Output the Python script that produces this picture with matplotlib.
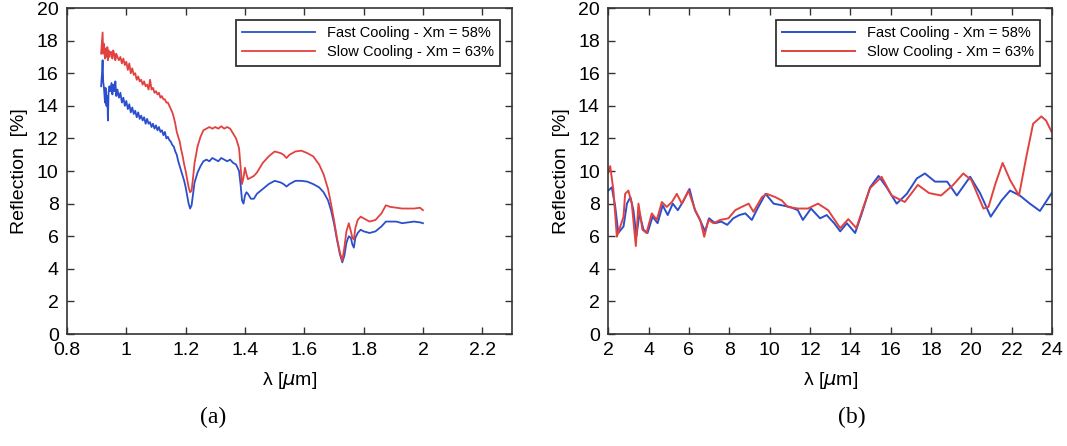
import matplotlib.pyplot as plt
import numpy as np

plt.rcParams['font.family'] = ['Liberation Sans', 'DejaVu Sans']

# panel (a): near infrared
xa = [0.915, 0.918, 0.920, 0.922, 0.925, 0.928, 0.930, 0.933, 0.936, 0.938, 0.940, 0.943, 0.946,
      0.950, 0.953, 0.956, 0.960, 0.963, 0.966, 0.970, 0.975, 0.980, 0.985, 0.990, 0.995, 1.000,
      1.005, 1.010, 1.015, 1.020, 1.025, 1.030, 1.035, 1.040, 1.045, 1.050, 1.055, 1.060, 1.065,
      1.070, 1.075, 1.080, 1.085, 1.090, 1.095, 1.100, 1.105, 1.110, 1.115, 1.120, 1.125, 1.130,
      1.135, 1.140, 1.145, 1.150, 1.155, 1.160, 1.165, 1.170, 1.175, 1.180, 1.185, 1.190, 1.195,
      1.200, 1.205, 1.210, 1.215, 1.220, 1.225, 1.230, 1.240, 1.250, 1.260, 1.270, 1.280, 1.290,
      1.300, 1.310, 1.320, 1.330, 1.340, 1.350, 1.360, 1.370, 1.380, 1.385, 1.390, 1.395, 1.400,
      1.405, 1.410, 1.420, 1.430, 1.440, 1.460, 1.480, 1.500, 1.520, 1.530, 1.540, 1.550, 1.570,
      1.590, 1.610, 1.630, 1.650, 1.665, 1.680, 1.690, 1.700, 1.710, 1.720, 1.728, 1.735, 1.742,
      1.750, 1.757, 1.762, 1.767, 1.772, 1.780, 1.790, 1.800, 1.820, 1.840, 1.860, 1.875, 1.890,
      1.910, 1.930, 1.950, 1.970, 1.990, 2.000]
fast_a = [15.2, 16.0, 16.8, 15.5, 15.0, 14.2, 15.1, 14.0, 14.6, 13.1, 14.8, 15.2, 14.9,
          15.4, 14.7, 15.3, 14.9, 15.5, 14.6, 15.0, 14.5, 14.8, 14.2, 14.5, 14.0, 14.3,
          13.8, 14.1, 13.6, 13.9, 13.5, 13.7, 13.3, 13.6, 13.2, 13.4, 13.1, 13.3, 12.9,
          13.2, 12.9, 13.0, 12.7, 12.9, 12.6, 12.8, 12.5, 12.7, 12.4, 12.5, 12.2, 12.4,
          12.0, 12.1, 11.9, 11.8, 11.6, 11.5, 11.2, 11.0, 10.6, 10.3, 10.0, 9.7, 9.4,
          9.0, 8.5, 8.0, 7.7, 7.9, 8.6, 9.3, 9.9, 10.3, 10.6, 10.7, 10.6, 10.8,
          10.7, 10.6, 10.8, 10.7, 10.6, 10.7, 10.5, 10.4, 10.0, 9.2, 8.2, 8.0, 8.5,
          8.7, 8.6, 8.3, 8.3, 8.6, 8.9, 9.2, 9.4, 9.3, 9.2, 9.05, 9.2, 9.4,
          9.4, 9.35, 9.2, 9.0, 8.7, 8.2, 7.6, 6.8, 5.8, 4.9, 4.4, 4.8, 5.6,
          6.0, 5.9, 5.5, 5.3, 5.9, 6.2, 6.4, 6.3, 6.2, 6.3, 6.6, 6.9, 6.9,
          6.9, 6.8, 6.85, 6.9, 6.85, 6.8]
slow_a = [17.2, 18.0, 18.5, 17.2, 17.8, 16.9, 17.5, 17.0, 17.6, 16.8, 17.4, 17.0, 17.3,
          17.3, 16.9, 17.4, 17.1, 16.8, 17.2, 17.0, 16.8, 17.0, 16.6, 16.9, 16.5, 16.7,
          16.2, 16.6, 16.0, 16.3, 15.9, 16.0, 15.6, 15.8, 15.5, 15.6, 15.3, 15.5, 15.2,
          15.3, 15.0, 15.6, 15.0, 15.1, 14.8, 14.9, 14.7, 14.8, 14.5, 14.6, 14.4, 14.4,
          14.2, 14.2, 14.0, 13.8, 13.6, 13.3, 12.9, 12.4, 12.1, 11.8, 11.3, 10.9, 10.4,
          10.0, 9.5, 9.0, 8.7, 8.8, 9.6, 10.5, 11.5, 12.1, 12.5, 12.6, 12.7, 12.6,
          12.7, 12.6, 12.75, 12.6, 12.7, 12.6, 12.3, 12.0, 11.4, 10.3, 9.2, 9.6, 10.2,
          9.8, 9.5, 9.6, 9.7, 9.9, 10.5, 10.9, 11.2, 11.1, 11.0, 10.8, 11.0, 11.2,
          11.25, 11.1, 10.9, 10.4, 9.8, 8.9, 8.0, 7.0, 5.9, 5.0, 4.5, 5.3, 6.3,
          6.8, 6.3, 5.9, 5.8, 6.5, 7.0, 7.2, 7.1, 6.9, 7.0, 7.4, 7.9, 7.8,
          7.75, 7.7, 7.7, 7.7, 7.75, 7.6]

# panel (b): mid infrared
xb_fast = [2.0, 2.18, 2.35, 2.5, 2.76, 2.93, 3.1, 3.25, 3.4, 3.55, 3.75, 3.95, 4.2, 4.45, 4.7,
           4.95, 5.2, 5.45, 5.7, 6.03, 6.3, 6.55, 6.8, 7.0, 7.3, 7.6, 7.9, 8.2, 8.5, 8.8, 9.12,
           9.4, 9.8, 10.2, 10.6, 11.0, 11.4, 11.65, 12.05, 12.5, 12.83, 13.2, 13.5, 13.83,
           14.24, 14.57, 14.98, 15.4, 15.8, 16.3, 16.8, 17.3, 17.7, 18.2, 18.8, 19.28, 19.94,
           20.43, 20.96, 21.5, 21.92, 22.4, 22.9, 23.4, 23.98]
fast_b = [8.8, 9.0, 7.8, 6.2, 6.6, 8.0, 8.4, 7.6, 6.0, 7.4, 6.4, 6.2, 7.2, 6.8, 7.9,
          7.3, 8.0, 7.6, 8.1, 8.9, 7.6, 7.0, 6.3, 7.1, 6.8, 6.9, 6.7, 7.1, 7.3, 7.4, 7.0,
          7.7, 8.6, 8.0, 7.9, 7.8, 7.6, 7.0, 7.7, 7.1, 7.3, 6.8, 6.3, 6.8,
          6.2, 7.4, 9.0, 9.7, 9.0, 8.0, 8.6, 9.55, 9.85, 9.35, 9.35, 8.5, 9.65,
          8.65, 7.2, 8.2, 8.8, 8.5, 8.0, 7.55, 8.65]
xb_slow = [2.0, 2.1, 2.26, 2.43, 2.6, 2.76, 2.84, 3.0, 3.17, 3.37, 3.5, 3.7, 3.9, 4.16, 4.41,
           4.66, 4.9, 5.16, 5.4, 5.65, 5.98, 6.31, 6.56, 6.76, 6.97, 7.22, 7.55, 7.96, 8.3,
           8.62, 8.96, 9.2, 9.62, 9.86, 10.28, 10.6, 10.9, 11.4, 11.9, 12.4, 12.9, 13.5, 13.9,
           14.3, 14.65, 14.98, 15.55, 16.05, 16.7, 17.35, 17.9, 18.5, 19.1, 19.6, 20.0, 20.6,
           20.85, 21.2, 21.55, 21.92, 22.36, 22.73, 23.06, 23.47, 23.7, 23.98]
slow_b = [9.9, 10.3, 8.8, 5.97, 6.6, 7.2, 8.6, 8.8, 8.0, 5.4, 8.0, 6.4, 6.2, 7.4, 7.0,
          8.1, 7.8, 8.1, 8.6, 8.0, 8.8, 7.6, 7.0, 5.97, 7.0, 6.8, 7.0, 7.1, 7.6,
          7.8, 8.0, 7.5, 8.4, 8.6, 8.4, 8.2, 7.8, 7.7, 7.7, 8.0, 7.6, 6.5, 7.05,
          6.5, 7.8, 8.95, 9.65, 8.5, 8.1, 9.15, 8.65, 8.5, 9.15, 9.85, 9.45, 7.7,
          7.8, 9.25, 10.5, 9.45, 8.5, 10.9, 12.9, 13.35, 13.1, 12.4]

blue = '#2b4fcc'
red = '#e2423f'

fig = plt.figure(figsize=(10.67, 4.46), dpi=100)
axa = fig.add_axes([0.0628, 0.251, 0.417, 0.731])
axb = fig.add_axes([0.570, 0.251, 0.416, 0.731])

axa.plot(xa, fast_a, color=blue, lw=1.3, label='Fast Cooling - Xm = 58%')
axa.plot(xa, slow_a, color=red, lw=1.3, label='Slow Cooling - Xm = 63%')
axa.set_xlim(0.8, 2.3)
axa.set_xticks(np.arange(0.8, 2.21, 0.2))
axa.set_xticklabels(['0.8', '1', '1.2', '1.4', '1.6', '1.8', '2', '2.2'])

axb.plot(xb_fast, fast_b, color=blue, lw=1.4, label='Fast Cooling - Xm = 58%')
axb.plot(xb_slow, slow_b, color=red, lw=1.4, label='Slow Cooling - Xm = 63%')
axb.set_xlim(2, 24)
axb.set_xticks(range(2, 25, 2))

for ax, tag, tx in [(axa, '(a)', 213 / 1067), (axb, '(b)', 852 / 1067)]:
    ax.set_ylim(0, 20)
    ax.set_yticks(range(0, 21, 2))
    ax.tick_params(direction='in', top=True, right=True, length=5, width=1,
                   labelsize=14, color='#333333', pad=6)
    for s in ax.spines.values():
        s.set_color('#333333')
        s.set_linewidth(1.2)
    ax.set_ylabel('Reflection  [%]', fontsize=14, labelpad=6)
    ax.set_xlabel('λ [$\\mu$m]', fontsize=14, labelpad=8)
    leg = ax.legend(loc='upper right', fontsize=10.5, handlelength=5.0, fancybox=False,
                    framealpha=1, borderaxespad=0.8, borderpad=0.45, labelspacing=0.35)
    leg.get_frame().set_edgecolor('#333333')
    leg.get_frame().set_linewidth(1.3)
    fig.text(tx, 0.065, tag, ha='center', va='center',
             fontsize=17, family='Liberation Serif')

fig.savefig('out.png', dpi=100)
